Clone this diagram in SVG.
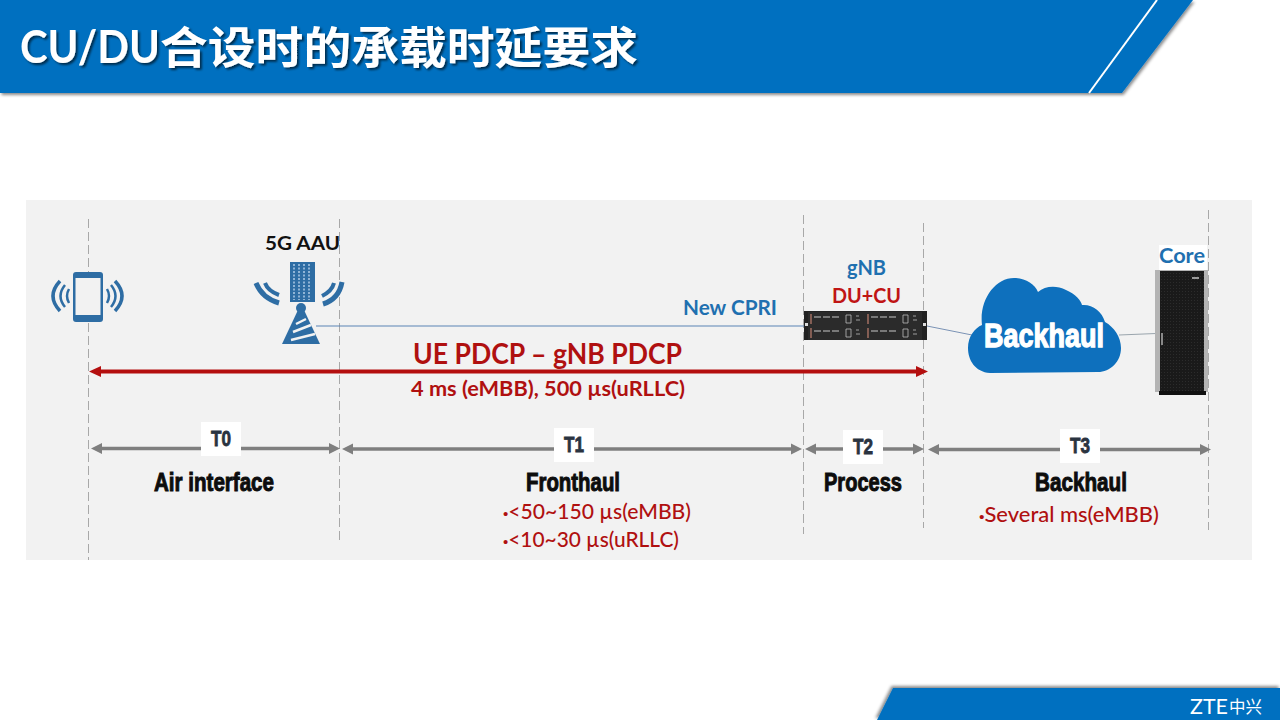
<svg xmlns="http://www.w3.org/2000/svg" width="1280" height="720" viewBox="0 0 1280 720">
<style>
text{font-family:"Lato","Liberation Sans","Noto Sans CJK SC",sans-serif}
.red{fill:#b01010;font-weight:700}
.blue{fill:#1f70b0;font-weight:700}
.bul{font-family:"Liberation Sans",sans-serif;font-size:15px}
.imp{font-family:"Liberation Sans Narrow","Liberation Sans",sans-serif;font-weight:700;fill:#0d0d0d;stroke:#0d0d0d;stroke-width:1px}
.tn{font-family:"Liberation Sans Narrow","Liberation Sans",sans-serif;font-weight:700;font-size:22px;fill:#2a3340;stroke:#2a3340;stroke-width:.8px}
.dash{stroke:#a8a8a8;stroke-width:1;stroke-dasharray:9 4;fill:none}
.gray{stroke:#7f7f7f;stroke-width:3.4;fill:none;marker-start:url(#gs);marker-end:url(#ge)}
.ic{fill:#2e6da4}
.arc{fill:none;stroke:#2e6da4;stroke-linecap:butt}
</style>
<defs>
<marker id="ge" markerUnits="userSpaceOnUse" markerWidth="12" markerHeight="12" refX="5" refY="6" orient="auto"><path d="M0 .5L11 6L0 11.5z" fill="#7f7f7f"/></marker>
<marker id="gs" markerUnits="userSpaceOnUse" markerWidth="12" markerHeight="12" refX="7" refY="6" orient="auto"><path d="M12 .5L1 6L12 11.500z" fill="#7f7f7f"/></marker>
<marker id="re" markerUnits="userSpaceOnUse" markerWidth="13" markerHeight="12" refX="6" refY="6" orient="auto"><path d="M0 .5L12 6L0 11.500z" fill="#b40f0f"/></marker>
<marker id="rs" markerUnits="userSpaceOnUse" markerWidth="13" markerHeight="12" refX="7" refY="6" orient="auto"><path d="M13 .5L1 6L13 11.500z" fill="#b40f0f"/></marker>
<filter id="sh" x="-5%" y="-20%" width="110%" height="150%"><feDropShadow dx="1.500" dy="2" stdDeviation="1.500" flood-color="#000" flood-opacity=".45"/></filter>
<filter id="shu" x="-5%" y="-30%" width="110%" height="150%"><feDropShadow dx="-1.500" dy="-2" stdDeviation="1.500" flood-color="#000" flood-opacity=".45"/></filter>
<filter id="ts" x="-5%" y="-20%" width="110%" height="150%"><feDropShadow dx="2" dy="2" stdDeviation="1" flood-color="#000" flood-opacity=".6"/></filter>
<pattern id="rk" width="3" height="3" patternUnits="userSpaceOnUse"><rect width="3" height="3" fill="#1a1a1a"/><rect width="1" height="1" fill="#2c2c2c"/></pattern>
<g id="unit"><path d="M0 0h57v14H0z" fill="#2b2b2b"/><path d="M3 2v10" stroke="#c08070" stroke-width="1.200"/><path d="M6 5h27" stroke="#c8c8c8" stroke-width="1" stroke-dasharray="7 2"/><path d="M38 3h5v8h-5zM48 4h3M48 8h4" fill="none" stroke="#bbb" stroke-width=".8"/></g>
</defs>

<rect width="1280" height="720" fill="#fff"/>

<g id="header">
<path d="M0 0H1193L1122 93H0z" fill="#0070c0" filter="url(#sh)"/>
<path d="M1157 0L1089 93" stroke="#fff" stroke-width="2" fill="none"/>
<g filter="url(#ts)">
<text x="20" y="63" font-size="45" font-weight="700" fill="#fff" textLength="140" lengthAdjust="spacingAndGlyphs">CU/DU</text>
<text x="160" y="64" font-size="44" font-weight="700" fill="#fff" style="font-family:'Noto Sans CJK SC',sans-serif" textLength="478" lengthAdjust="spacingAndGlyphs">合设时的承载时延要求</text>
</g>
</g>

<g id="footer">
<path d="M893 688H1280V720H877z" fill="#0070c0" filter="url(#shu)"/>
<text x="1190" y="714" font-size="22" fill="#fff" font-weight="400" textLength="38" lengthAdjust="spacingAndGlyphs">ZTE</text>
<text x="1229" y="713" font-size="17" fill="#fff" style="font-family:'Noto Sans CJK SC',sans-serif" textLength="33" lengthAdjust="spacingAndGlyphs">中兴</text>
</g>

<rect id="panel" x="26" y="200" width="1226" height="360" fill="#f2f2f2"/>

<g id="guides">
<path class="dash" d="M88.500 219V560"/>
<path class="dash" d="M339.500 219V544"/>
<path class="dash" d="M803.500 215V534"/>
<path class="dash" d="M923.500 223V528"/>
<path class="dash" d="M1208.500 210V530"/>
</g>

<g id="connectors">
<path d="M316 326H804" stroke="#5b84b5" stroke-width="1" fill="none"/>
<path d="M927 326L972 335" stroke="#7b93b5" stroke-width="1" fill="none"/>
<path d="M1119 335L1156 333.500" stroke="#9aa5ad" stroke-width="1" fill="none"/>
<path d="M95 371.500H922" stroke="#b40f0f" stroke-width="4" fill="none" marker-start="url(#rs)" marker-end="url(#re)"/>
<path class="gray" d="M97 448.500H334"/>
<path class="gray" d="M348 449H796"/>
<path class="gray" d="M811 449H918"/>
<path class="gray" d="M934 449.500H1205"/>
</g>

<g id="ue">
<rect class="ic" x="73" y="272" width="30" height="50" rx="3"/>
<rect x="75.500" y="278" width="25" height="37" fill="#f2f2f2"/>
<g class="arc">
<path d="M69 289Q65 296 69 303" stroke-width="2.500"/>
<path d="M65 285Q56 296 65 307" stroke-width="2.500"/>
<path d="M60 281Q46 296 60 311" stroke-width="3.500"/>
<path d="M107 289Q111 296 107 303" stroke-width="2.500"/>
<path d="M111 285Q120 296 111 307" stroke-width="2.500"/>
<path d="M115 281Q129 296 115 311" stroke-width="3.500"/>
</g>
</g>

<g id="aau">
<text x="265" y="250" font-size="19" font-weight="700" fill="#111" textLength="75" lengthAdjust="spacingAndGlyphs">5G AAU</text>
<rect class="ic" x="290" y="262" width="25" height="40"/>
<path d="M294 264v36M299 264v36M304 264v36M309 264v36" stroke="#8fb4d6" stroke-width="2" stroke-dasharray="2 1.500"/>
<circle class="ic" cx="301" cy="308" r="5"/>
<path class="ic" d="M298 310h6l16 34H282z"/>
<path d="M296 324l10-5M293 332l18-7M291 340l24-6" stroke="#f2f2f2" stroke-width="2.500" fill="none"/>
<g class="arc">
<path d="M256 283q6 15 23 20" stroke-width="5"/>
<path d="M265 283q3 8 14 12" stroke-width="4"/>
<path d="M342 282q-3 17-19 22" stroke-width="5"/>
<path d="M334 283q-2 8-12 13" stroke-width="4"/>
</g>
</g>

<text id="cpri" x="683" y="315" font-size="21" class="blue" textLength="94" lengthAdjust="spacingAndGlyphs">New CPRI</text>

<g id="gnb">
<text x="847" y="275" font-size="21" class="blue" textLength="39" lengthAdjust="spacingAndGlyphs">gNB</text>
<text x="832" y="303" font-size="21" font-weight="700" fill="#c01515" textLength="69" lengthAdjust="spacingAndGlyphs">DU+CU</text>
<rect x="804" y="311" width="123" height="29" fill="#222"/>
<use href="#unit" x="808" y="312"/><use href="#unit" x="865" y="312"/>
<use href="#unit" x="808" y="326"/><use href="#unit" x="865" y="326"/>
<rect x="805" y="323" width="3" height="3" fill="#ddd"/><rect x="923" y="323" width="3" height="3" fill="#ddd"/>
</g>

<g id="cloud">
<path fill="#0e70bd" d="M990 373C975 372 968 360 968 348C968 336 975 328 982 325C979 300 995 278 1014 278C1025 278 1035 284 1038 292C1045 286 1056 285 1066 290C1076 294 1081 301 1082 305C1092 304 1102 311 1105 322C1114 327 1121 337 1121 348C1121 362 1110 372 1098 372z"/>
<text x="984" y="347" font-size="33" style="font-family:'Liberation Sans Narrow','Liberation Sans',sans-serif;font-weight:700;fill:#fff;stroke:#fff;stroke-width:1.300px" textLength="120" lengthAdjust="spacingAndGlyphs">Backhaul</text>
</g>

<g id="core">
<rect x="1159" y="245" width="48" height="25" fill="#fff"/>
<text x="1159" y="263" font-size="21" class="blue" textLength="46" lengthAdjust="spacingAndGlyphs">Core</text>
<rect x="1155" y="270" width="53" height="122" fill="#b4b4b4"/>
<rect x="1160" y="271" width="44" height="120" fill="url(#rk)"/>
<rect x="1159" y="391" width="47" height="4" fill="#111"/>
<rect x="1161" y="333" width="2" height="12" fill="#888"/>
<rect x="1192" y="277" width="7" height="2" fill="#999"/>
</g>

<g id="e2e">
<text x="413" y="364" font-size="28" class="red" textLength="269" lengthAdjust="spacingAndGlyphs">UE PDCP – gNB PDCP</text>
<text x="411" y="396" font-size="21" class="red" textLength="274" lengthAdjust="spacingAndGlyphs">4 ms (eMBB), 500 µs(uRLLC)</text>
</g>

<g id="t0">
<rect x="201" y="422" width="40" height="34" fill="#fff"/>
<text x="211" y="446" class="tn" textLength="20" lengthAdjust="spacingAndGlyphs">T0</text>
<text x="154" y="491" font-size="26" class="imp" textLength="120" lengthAdjust="spacingAndGlyphs">Air interface</text>
</g>
<g id="t1">
<rect x="554" y="428" width="40" height="34" fill="#fff"/>
<text x="564" y="452" class="tn" textLength="20" lengthAdjust="spacingAndGlyphs">T1</text>
<text x="526" y="491" font-size="26" class="imp" textLength="94" lengthAdjust="spacingAndGlyphs">Fronthaul</text>
<text x="503" y="519" font-size="21" class="red" style="font-weight:500" textLength="188" lengthAdjust="spacingAndGlyphs"><tspan class="bul">•</tspan>&lt;50~150 µs(eMBB)</text>
<text x="503" y="547" font-size="21" class="red" style="font-weight:500" textLength="176" lengthAdjust="spacingAndGlyphs"><tspan class="bul">•</tspan>&lt;10~30 µs(uRLLC)</text>
</g>
<g id="t2">
<rect x="843" y="430" width="40" height="34" fill="#fff"/>
<text x="853" y="454" class="tn" textLength="20" lengthAdjust="spacingAndGlyphs">T2</text>
<text x="824" y="491" font-size="26" class="imp" textLength="78" lengthAdjust="spacingAndGlyphs">Process</text>
</g>
<g id="t3">
<rect x="1060" y="429" width="40" height="34" fill="#fff"/>
<text x="1070" y="453" class="tn" textLength="20" lengthAdjust="spacingAndGlyphs">T3</text>
<text x="1035" y="491" font-size="26" class="imp" textLength="92" lengthAdjust="spacingAndGlyphs">Backhaul</text>
<text x="979" y="522" font-size="21" class="red" style="font-weight:500" textLength="180" lengthAdjust="spacingAndGlyphs"><tspan class="bul">•</tspan>Several ms(eMBB)</text>
</g>
</svg>
